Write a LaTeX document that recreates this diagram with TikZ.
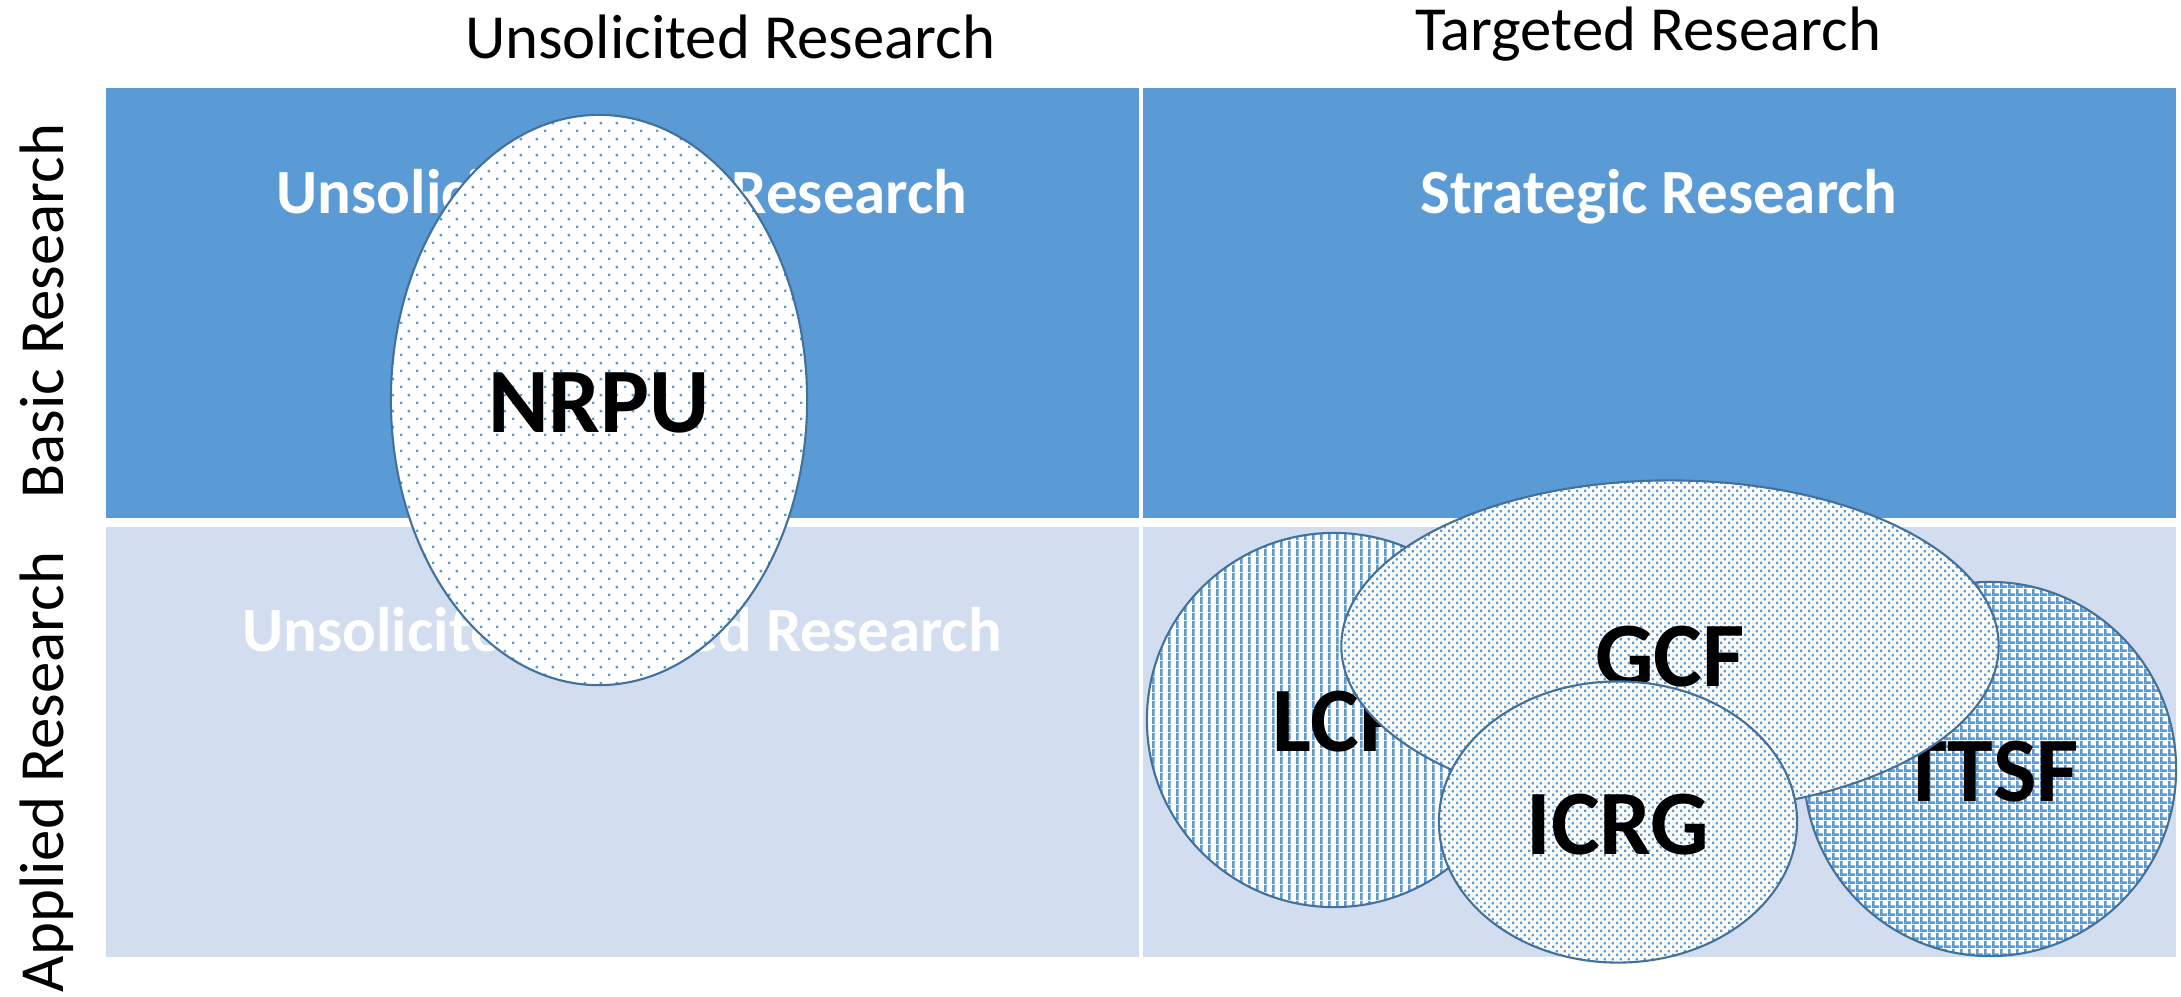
\documentclass[tikz,border=0pt]{standalone}
\usepackage{fontspec}
\setmainfont{Carlito}
\usetikzlibrary{shapes.geometric,patterns}
\definecolor{darkband}{HTML}{5B9BD5}
\definecolor{lightband}{HTML}{D2DEEF}
\definecolor{edgeblue}{HTML}{41719C}
\definecolor{patblue}{HTML}{5B9BD5}
% sparse dots (NRPU)
\pgfdeclarepatternformonly{sparsedots}{\pgfpointorigin}{\pgfpoint{4.552pt}{4.552pt}}{\pgfpoint{4.552pt}{4.552pt}}{%
  \pgfpathrectangle{\pgfpoint{0pt}{0pt}}{\pgfpoint{0.75pt}{0.75pt}}%
  \pgfpathrectangle{\pgfpoint{2.276pt}{2.276pt}}{\pgfpoint{0.75pt}{0.75pt}}%
  \pgfusepath{fill}}
% dense dots (GCF, ICRG)
\pgfdeclarepatternformonly{densedots}{\pgfpointorigin}{\pgfpoint{2.276pt}{2.276pt}}{\pgfpoint{2.276pt}{2.276pt}}{%
  \pgfpathrectangle{\pgfpoint{0pt}{0pt}}{\pgfpoint{0.72pt}{0.72pt}}%
  \pgfpathrectangle{\pgfpoint{1.138pt}{1.138pt}}{\pgfpoint{0.72pt}{0.72pt}}%
  \pgfusepath{fill}}
% vertical lines (LCF)
\pgfdeclarepatternformonly{vlines}{\pgfpointorigin}{\pgfpoint{2.276pt}{2.276pt}}{\pgfpoint{2.276pt}{2.276pt}}{%
  \pgfpathrectangle{\pgfpoint{0pt}{0pt}}{\pgfpoint{0.85pt}{2.276pt}}%
  \pgfusepath{fill}}
% grid (TTSF)
\pgfdeclarepatternformonly{gridlines}{\pgfpointorigin}{\pgfpoint{2.276pt}{2.276pt}}{\pgfpoint{2.276pt}{2.276pt}}{%
  \pgfpathrectangle{\pgfpoint{0pt}{0pt}}{\pgfpoint{0.8pt}{2.276pt}}%
  \pgfpathrectangle{\pgfpoint{0pt}{0pt}}{\pgfpoint{2.276pt}{0.8pt}}%
  \pgfusepath{fill}}
\tikzset{
  headtext/.style={font=\fontsize{17.85pt}{20pt}\selectfont, text=black, inner sep=0pt, anchor=base},
  celltext/.style={font=\bfseries\fontsize{17.9pt}{20pt}\selectfont, text=white, inner sep=0pt, anchor=base},
  blob/.style={ellipse, draw=edgeblue, line width=0.6pt, inner sep=0pt, preaction={fill=white}, pattern color=patblue},
  lbl/.style={font=\bfseries\fontsize{26.2pt}{28pt}\selectfont, text=black, inner sep=0pt}
}
\begin{document}
\begin{tikzpicture}[x=0.01cm,y=-0.01cm]
\useasboundingbox (0,0) rectangle (2181,996);
\fill[white] (0,0) rectangle (2181,996);
% cells
\fill[darkband] (106,88) rectangle (1139,518);
\fill[darkband] (1143,88) rectangle (2176,518);
\fill[lightband] (106,527) rectangle (1139,957);
\fill[lightband] (1143,527) rectangle (2176,957);
% headers
\node[headtext] (hunsol) at (730,58) {Unsolicited Research};
\node[headtext] (htarg) at (1648,50) {Targeted Research};
\node[headtext, rotate=90] (hbasic) at (63,311) {Basic Research};
\node[headtext, rotate=90] (happl) at (63,772) {Applied Research};
% cell texts
\node[celltext] (c11) at (622,213) {Unsolicited Basic Research};
\node[celltext] (c12) at (1659,213) {Strategic Research};
\node[celltext] (c21) at (622,651) {Unsolicited Applied Research};
% ellipses
\node[blob, pattern=sparsedots, minimum width=4.16cm, minimum height=5.70cm] (nrpu) at (599,400) {};
\node[lbl] (nrput) at (599,403) {NRPU};
\node[blob, pattern=vlines, minimum width=3.74cm, minimum height=3.74cm] (lcf) at (1334,720) {};
\node[lbl] (lcft) at (1337,722) {LCF};
\node[blob, pattern=gridlines, minimum width=3.72cm, minimum height=3.74cm] (ttsf) at (1990,769) {};
\node[lbl] (ttsft) at (1990,772) {TTSF};
\node[blob, pattern=densedots, minimum width=6.57cm, minimum height=3.31cm] (gcf) at (1670,646) {};
\node[lbl] (gcft) at (1670,657) {GCF};
\node[blob, pattern=densedots, minimum width=3.58cm, minimum height=2.81cm] (icrg) at (1618,822) {};
\node[lbl] (icrgt) at (1618,825) {ICRG};
\end{tikzpicture}
\end{document}
